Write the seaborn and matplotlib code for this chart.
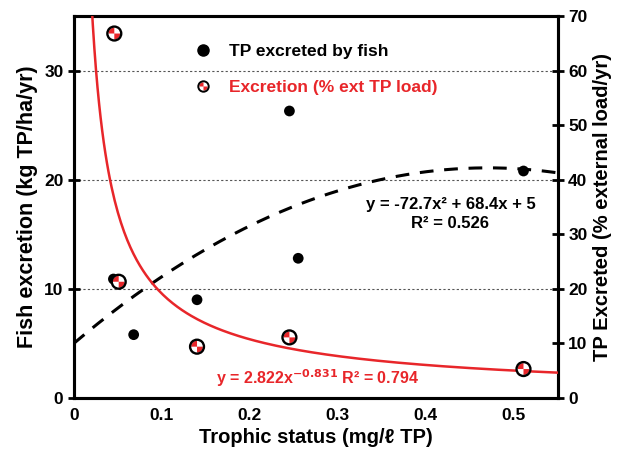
import numpy as np
import pandas as pd
import matplotlib
matplotlib.use("Agg")
import matplotlib.pyplot as plt
import seaborn as sns
from matplotlib.path import Path
from matplotlib.lines import Line2D
from matplotlib.legend_handler import HandlerTuple

# data
trophic_fish = [0.045, 0.068, 0.140, 0.245, 0.255, 0.511]
fish_excretion = [10.9, 5.8, 9.0, 26.3, 12.8, 20.8]

trophic_pct = [0.046, 0.051, 0.140, 0.245, 0.511]
pct_ext_load = [66.8, 21.3, 9.4, 11.1, 5.3]

# fitted trend lines (as printed on the chart)
quad_coef = [-72.7, 68.4, 5.0]
pow_a, pow_b = 2.822, -0.831

sns.set_style("white")
plt.rcParams['font.family'] = ['Liberation Sans', 'DejaVu Sans']
plt.rcParams['font.weight'] = 'bold'
plt.rcParams['text.color'] = 'black'
plt.rcParams['axes.labelcolor'] = 'black'
plt.rcParams['mathtext.default'] = 'bf'

RED = '#e8262a'

# checker-like marker: red top-left and bottom-right quarters of a disc
verts, codes = [], []
for a0 in (90, 270):
    t = np.radians(np.linspace(a0, a0 + 90, 12))
    pts = [(0, 0)] + list(zip(np.cos(t), np.sin(t))) + [(0, 0)]
    verts += pts
    codes += [Path.MOVETO] + [Path.LINETO] * (len(pts) - 2) + [Path.CLOSEPOLY]
checker = Path(verts, codes)

fig = plt.figure(figsize=(6.31, 4.59), dpi=100)
ax = fig.add_axes([0.117, 0.133, 0.767, 0.832])
ax2 = ax.twinx()

# fish excretion (left axis)
fish = pd.DataFrame({'x': trophic_fish, 'y': fish_excretion})
xq = np.linspace(0, 0.55, 200)
quad = pd.DataFrame({'x': xq, 'y': np.polyval(quad_coef, xq)})
sns.lineplot(data=quad, x='x', y='y', ax=ax, color='black', lw=2.2,
             linestyle=(0, (4.5, 3.5)), zorder=3)
sns.scatterplot(data=fish, x='x', y='y', ax=ax, color='black', s=60,
                edgecolor='none', zorder=4)

# % of external load (right axis)
xp = np.linspace(0.018, 0.55, 300)
powfit = pd.DataFrame({'x': xp, 'y': pow_a * xp ** pow_b})
pct = pd.DataFrame({'x': trophic_pct, 'y': pct_ext_load})
sns.lineplot(data=powfit, x='x', y='y', ax=ax2, color=RED, lw=1.8, zorder=3)
sns.scatterplot(data=pct, x='x', y='y', ax=ax2, color='white', s=100,
                edgecolor='none', zorder=4)
sns.scatterplot(data=pct, x='x', y='y', ax=ax2, color=RED, s=72,
                marker=checker, edgecolor='none', linewidth=0, zorder=5)
ax2.scatter(trophic_pct, pct_ext_load, s=100, facecolors='none',
            edgecolors='black', linewidths=1.7, zorder=6)

ax.set_xlim(0, 0.55)
ax.set_ylim(0, 35)
ax2.set_ylim(0, 70)
ax.set_xticks([0, 0.1, 0.2, 0.3, 0.4, 0.5])
ax.set_xticklabels(['0', '0.1', '0.2', '0.3', '0.4', '0.5'])
ax.set_yticks([0, 10, 20, 30])
ax2.set_yticks(range(0, 71, 10))

ax.yaxis.grid(True, linestyle=(0, (2, 2)), color='#555555', lw=0.8)
ax.set_axisbelow(True)

for a in (ax, ax2):
    for sp in a.spines.values():
        sp.set_linewidth(2.2)
        sp.set_color('black')
    a.tick_params(direction='inout', length=8, width=2, labelsize=12.5, colors='black')

ax.set_xlabel('Trophic status (mg/ℓ TP)', fontsize=14.5, fontweight='bold', labelpad=3)
ax.set_ylabel('Fish excretion (kg TP/ha/yr)', fontsize=15.5, fontweight='bold', labelpad=4)
ax2.set_ylabel('TP Excreted (% external load/yr)', fontsize=14.5, fontweight='bold', labelpad=4)

# equations
ax.text(0.428, 17.7, 'y = -72.7x² + 68.4x + 5', ha='center', va='center', fontsize=12,
        fontweight='bold')
ax.text(0.428, 16.0, 'R² = 0.526', ha='center', va='center', fontsize=12, fontweight='bold')
ax.text(0.277, 1.85, 'y = 2.822x$^{-0.831}$ R² = 0.794', ha='center', va='center',
        fontsize=11.5, fontweight='bold', color=RED)

# legend
h1 = Line2D([], [], marker='o', ls='none', color='black', markersize=8)
h2a = Line2D([], [], marker='o', ls='none', markerfacecolor='white',
             markeredgecolor='none', markersize=7.5)
h2b = Line2D([], [], marker=checker, ls='none', color=RED, markersize=6, markeredgewidth=0)
h2c = Line2D([], [], marker='o', ls='none', markerfacecolor='none',
             markeredgecolor='black', markersize=7.5, markeredgewidth=1.4)
leg = ax2.legend([h1, (h2a, h2b, h2c)], ['TP excreted by fish', 'Excretion (% ext TP load)'],
                 handler_map={tuple: HandlerTuple(ndivide=1)},
                 loc='upper left', bbox_to_anchor=(0.213, 0.968), frameon=False,
                 labelspacing=1.2, handletextpad=0.9, handlelength=1.2,
                 prop={'size': 12.5, 'weight': 'bold'})
leg.get_texts()[1].set_color(RED)

fig.savefig('out.png', dpi=100)
